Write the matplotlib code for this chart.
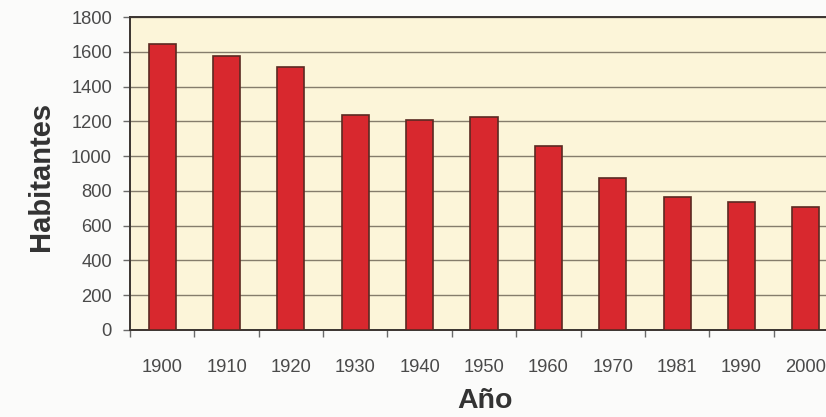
import matplotlib
matplotlib.use("Agg")
import matplotlib.pyplot as plt
import numpy as np

# Population by census year
years = ["1900", "1910", "1920", "1930", "1940", "1950", "1960", "1970", "1981", "1990", "2000"]
inhabitants = [1645, 1575, 1515, 1235, 1205, 1225, 1060, 875, 765, 735, 705]
y_ticks = [0, 200, 400, 600, 800, 1000, 1200, 1400, 1600, 1800]

plt.rcParams["font.family"] = ["Liberation Sans", "DejaVu Sans"]

W, H = 826, 417
fig = plt.figure(figsize=(W / 100, H / 100), dpi=100)
fig.patch.set_facecolor("#fbfbfa")

left, right_px = 130, 130 + 708
top, bottom = 17, 330
ax = fig.add_axes([left / W, (H - bottom) / H, (right_px - left) / W, (bottom - top) / H])
ax.set_facecolor("#fcf5d9")

x = np.arange(len(years))
ax.bar(x, inhabitants, width=0.42, color="#d8282e", edgecolor="#5a2a22", linewidth=1.2, zorder=3)

ax.set_xlim(-0.5, len(years) - 0.5)
ax.set_ylim(0, 1800)
ax.set_yticks(y_ticks)
ax.set_yticklabels([str(v) for v in y_ticks])
ax.yaxis.grid(True, color="#857d6c", linewidth=1.0, zorder=1)
ax.set_axisbelow(True)

# category labels centered, tick marks between categories
ax.set_xticks(x)
ax.set_xticklabels(years)
ax.set_xticks(np.arange(len(years) + 1) - 0.5, minor=True)
ax.tick_params(axis="x", which="major", length=0, pad=21, labelsize=13.2, labelcolor="#4a4a4a")
ax.tick_params(axis="x", which="minor", length=5, width=1, color="#6a6a6a")
ax.tick_params(axis="y", length=5, width=1, color="#6a6a6a", pad=8, labelsize=13.2, labelcolor="#4a4a4a")

for side in ["left", "bottom", "top", "right"]:
    ax.spines[side].set_color("#3a3430")
    ax.spines[side].set_linewidth(1.4)

fig.text(41 / W, (H - 176) / H, "Habitantes", fontsize=21, fontweight="bold", color="#333333",
         ha="center", va="center", rotation=90)
fig.text(485 / W, (H - 401) / H, "Año", fontsize=20.5, fontweight="bold", color="#333333",
         ha="center", va="center")

fig.savefig("out.png", dpi=100, facecolor=fig.get_facecolor())
